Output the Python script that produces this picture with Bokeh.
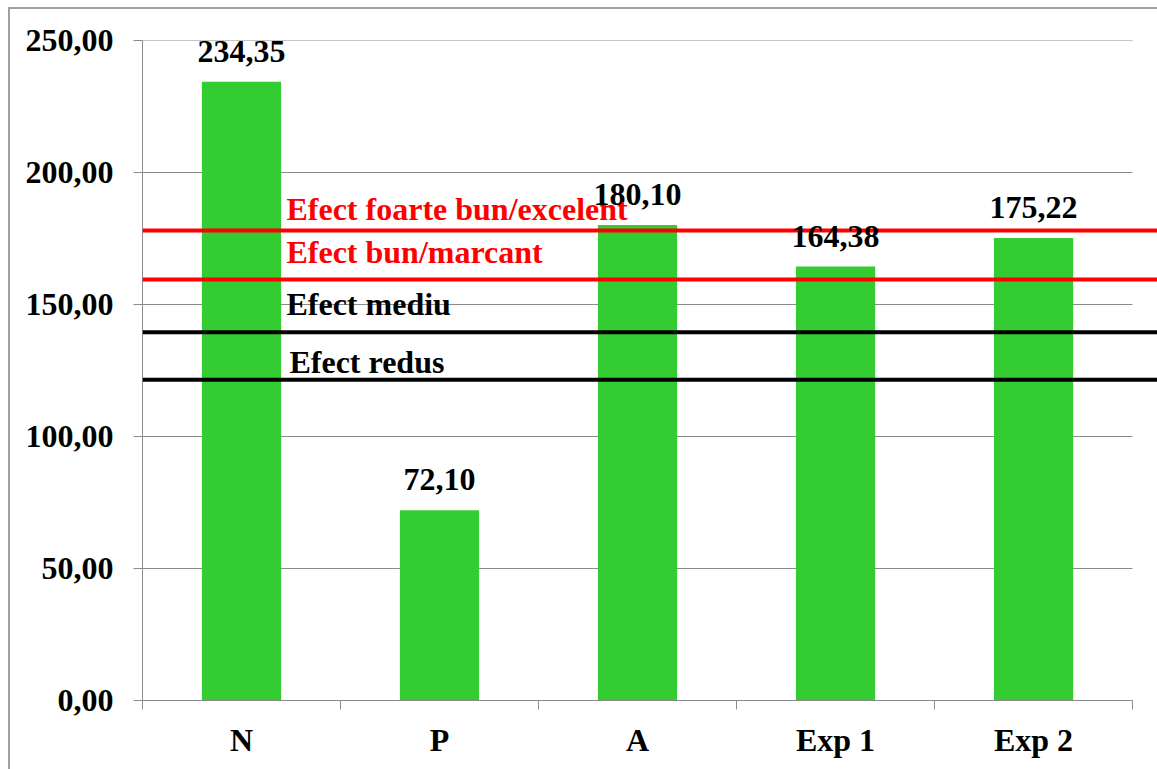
from bokeh.plotting import figure
from bokeh.models import (Range1d, FixedTicker, CustomJSTickFormatter, ColumnDataSource,
                          LabelSet, Span, LinearAxis)
from bokeh.core.properties import value
from bokeh.embed import file_html
from bokeh.resources import INLINE

# ---- data ----
categories = ["N", "P", "A", "Exp 1", "Exp 2"]
values = [234.35, 72.10, 180.10, 164.38, 175.22]

threshold_names = ["Efect foarte bun/excelent", "Efect bun/marcant", "Efect mediu", "Efect redus"]
threshold_values = [178.0, 159.5, 139.5, 121.5]
threshold_colors = ["#FF0000", "#FF0000", "#000000", "#000000"]

y_ticks = [0, 50, 100, 150, 200, 250]

FONT = "Liberation Serif"
FS = "32px"
GRAY = "#8c8c8c"

n = len(categories)
xc = [i + 0.5 for i in range(n)]

p = figure(width=1157, height=769, output_backend="svg", toolbar_location=None,
           x_range=Range1d(0, n + 0.126), y_range=Range1d(0, 250),
           min_border_left=142, min_border_top=40, min_border_bottom=69, min_border_right=0,
           x_axis_type=None, y_axis_type=None)
p.outline_line_color = None
p.xgrid.visible = False
p.ygrid.visible = False
p.border_fill_color = None
p.background_fill_color = "#ffffff"
# outer chart border (left and top edges visible)
p.styles = {
    "background-color": "#ffffff",
    "background-image": "linear-gradient(#a0a0a0, #a0a0a0), linear-gradient(#a0a0a0, #a0a0a0)",
    "background-size": "2px 100%, 100% 2px",
    "background-position": "8px 7px, 8px 7px",
    "background-repeat": "no-repeat",
}

# gridlines (limited to category extent)
p.segment(x0=[0] * (len(y_ticks) - 1), x1=[n] * (len(y_ticks) - 1), y0=y_ticks[1:], y1=y_ticks[1:],
          line_color=GRAY, line_width=1)

# bars
src = ColumnDataSource(dict(x=xc, top=values,
                            lab=[f"{v:.2f}".replace(".", ",") for v in values]))
p.vbar(x="x", top="top", bottom=0, width=0.4, source=src, fill_color="#33CC33", line_color=None)

# threshold lines
for tv, tc in zip(threshold_values, threshold_colors):
    p.add_layout(Span(location=tv, dimension="width", line_color=tc, line_width=4))

# y axis
yax = LinearAxis(ticker=FixedTicker(ticks=y_ticks),
                 formatter=CustomJSTickFormatter(code="return tick.toFixed(2).replace('.', ',');"))
yax.axis_line_color = GRAY
yax.major_tick_line_color = GRAY
yax.major_tick_out = 9
yax.major_tick_in = 0
yax.minor_tick_line_color = None
yax.major_label_standoff = 20
yax.major_label_text_font = FONT
yax.major_label_text_font_style = "bold"
yax.major_label_text_font_size = FS
yax.major_label_text_color = "#000000"
p.add_layout(yax, "left")

# x axis
xax = LinearAxis(ticker=FixedTicker(ticks=xc, minor_ticks=list(range(n + 1))),
                 formatter=CustomJSTickFormatter(args=dict(labels=categories),
                                                 code="return labels[Math.floor(tick)];"),
                 bounds=(0, n))
xax.axis_line_color = GRAY
xax.major_tick_line_color = None
xax.major_tick_out = 0
xax.major_tick_in = 0
xax.minor_tick_line_color = GRAY
xax.minor_tick_out = 9
xax.minor_tick_in = 0
xax.major_label_standoff = 12
xax.major_label_text_font = FONT
xax.major_label_text_font_style = "bold"
xax.major_label_text_font_size = FS
xax.major_label_text_color = "#000000"
p.add_layout(xax, "below")

# bar value labels
p.add_layout(LabelSet(x="x", y="top", text="lab", source=src, y_offset=20,
                      text_align="center", text_baseline="alphabetic",
                      text_font=value(FONT), text_font_style="bold", text_font_size=FS,
                      text_color="#000000"))

# threshold labels
tsrc = ColumnDataSource(dict(x=[0.727] * 4, y=threshold_values, t=threshold_names, c=threshold_colors,
                             dx=[0, 0, 0, 3], dy=[11, 16, 17, 7]))
p.add_layout(LabelSet(x="x", y="y", text="t", source=tsrc, x_offset="dx", y_offset="dy",
                      text_align="left", text_baseline="alphabetic", text_color="c",
                      text_font=value(FONT), text_font_style="bold", text_font_size=FS))

open("out.html", "w").write(file_html(p, INLINE))
